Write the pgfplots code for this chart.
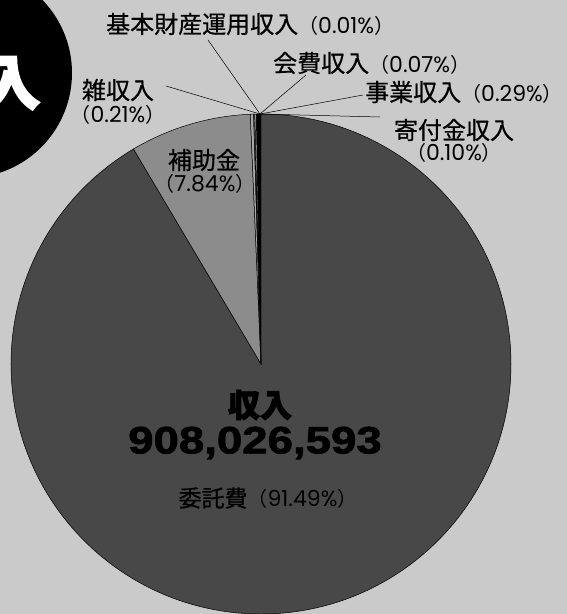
\documentclass[border=0pt]{standalone}
\usepackage{pgfplots}
\usepackage{pgfplotstable}
\pgfplotsset{compat=1.18}
\usepackage{fontspec}
\setmainfont{Noto Sans CJK JP}
\newfontfamily\labfont[FakeBold=0.6]{Noto Sans CJK JP}
\newfontfamily\heavyfont[FakeBold=2.5]{Noto Sans CJK JP}
\newfontfamily\pctfont{Poppins}
\newfontfamily\bignum[FakeStretch=1.2, FakeBold=2]{Liberation Sans}

\definecolor{bgcol}{RGB}{202,202,202}
\definecolor{darkcol}{RGB}{72,72,72}
\definecolor{midcol}{RGB}{140,140,140}
\definecolor{lightcol}{RGB}{168,168,168}

% share of each income item, clockwise from 12 o'clock
\pgfplotstableread{
pct    col
91.49  darkcol
7.84   midcol
0.21   lightcol
0.01   lightcol
0.07   lightcol
0.10   lightcol
0.29   black
}\pietable

\newcommand\cj[1]{{\labfont\fontsize{24}{28}\selectfont #1}}
\newcommand\pc[1]{{\fontsize{20}{24}\selectfont （{\pctfont\fontsize{22}{24}\selectfont #1}）}}

\begin{document}
\begin{tikzpicture}
\useasboundingbox (0,0) rectangle (567pt,614pt);
\clip (0,0) rectangle (567pt,614pt);
\begin{axis}[
    x=1pt, y=1pt,
    xmin=0, xmax=567,
    ymin=0, ymax=614,
    y dir=reverse,
    hide axis,
    clip=false,
]
% paper
\fill[bgcol] (axis cs:0,0) rectangle (axis cs:567,614);

% black badge, top left
\fill[black] (axis cs:-33,73) circle[radius=105pt];
\node[anchor=east, inner sep=0pt, text=white, font=\heavyfont\bfseries\fontsize{60}{64}\selectfont]
    at (axis cs:41,82) {収入};

% pie wedges from the table
\def\angA{0}
\pgfplotsforeachungrouped \i in {0,...,6}{%
  \pgfplotstablegetelem{\i}{pct}\of\pietable \let\mypct\pgfplotsretval
  \pgfplotstablegetelem{\i}{col}\of\pietable \let\mycol\pgfplotsretval
  \pgfmathsetmacro\angB{\angA+\mypct*3.6/1.0001}%
  \edef\temp{\noexpand\filldraw[fill=\mycol, draw=black, line width=0.5pt]
    (axis cs:261,364) -- ++({90-\angA}:250pt)
    arc[start angle={90-\angA}, end angle={90-\angB}, radius=250pt] -- cycle;}%
  \temp
  \global\let\angA\angB
}

% leader lines
\draw[line width=0.5pt] (axis cs:260,114) -- (axis cs:208,40);
\draw[line width=0.5pt] (axis cs:260,114) -- (axis cs:306,75);
\draw[line width=0.5pt] (axis cs:260,114) -- (axis cs:166,86);
\draw[line width=0.5pt] (axis cs:260,114) -- (axis cs:363,95);
\draw[line width=0.5pt] (axis cs:260,114) -- (axis cs:380,117);

% labels
\node[anchor=west, inner sep=0pt] at (axis cs:106,24) {\cj{基本財産運用収入}\pc{0.01\%}};
\node[anchor=west, inner sep=0pt] at (axis cs:273,63) {\cj{会費収入}\pc{0.07\%}};
\node[inner sep=0pt] at (axis cs:118,90) {\cj{雑収入}};
\node[inner sep=0pt] at (axis cs:118,115) {\pc{0.21\%}};
\node[anchor=west, inner sep=0pt] at (axis cs:365,92) {\cj{事業収入}\pc{0.29\%}};
\node[inner sep=0pt] at (axis cs:454,130) {\cj{寄付金収入}};
\node[inner sep=0pt] at (axis cs:454,153) {\pc{0.10\%}};
\node[inner sep=0pt] at (axis cs:204,160) {\cj{補助金}};
\node[inner sep=0pt] at (axis cs:205,184) {\pc{7.84\%}};

\node[inner sep=0pt, font=\heavyfont\bfseries\fontsize{32}{36}\selectfont] at (axis cs:260,405) {収入};
\node[inner sep=0pt, font=\bignum\bfseries\fontsize{38}{42}\selectfont] at (axis cs:255,443) {908,026,593};
\node[inner sep=0pt] at (axis cs:268,498) {{\labfont\fontsize{23}{27}\selectfont 委託費}\pc{91.49\%}};
\end{axis}
\end{tikzpicture}
\end{document}
